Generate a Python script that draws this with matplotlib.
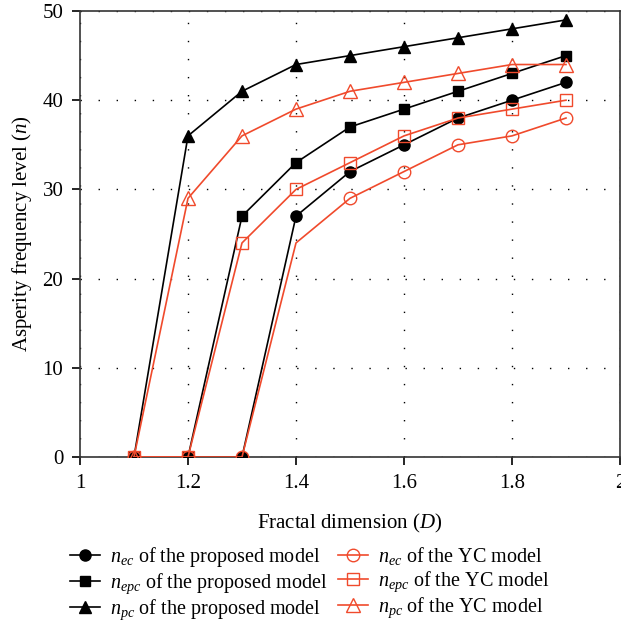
import matplotlib
matplotlib.use("Agg")
from matplotlib import pyplot as plt
from matplotlib.lines import Line2D

plt.rcParams['font.family'] = ['Liberation Serif', 'DejaVu Serif']
plt.rcParams['mathtext.fontset'] = 'custom'
plt.rcParams['mathtext.rm'] = 'Liberation Serif'
plt.rcParams['mathtext.it'] = 'Liberation Serif:italic'

D = [1.1, 1.2, 1.3, 1.4, 1.5, 1.6, 1.7, 1.8, 1.9]

n_ec_prop = [0, 0, 0, 27, 32, 35, 38, 40, 42]
n_epc_prop = [0, 0, 27, 33, 37, 39, 41, 43, 45]
n_pc_prop = [0, 36, 41, 44, 45, 46, 47, 48, 49]

n_ec_yc = [0, 0, 0, 24, 29, 32, 35, 36, 38]
n_epc_yc = [0, 0, 24, 30, 33, 36, 38, 39, 40]
n_pc_yc = [0, 29, 36, 39, 41, 42, 43, 44, 44]

labels = [r'$n_{ec}$ of the proposed model', r'$n_{epc}$ of the proposed model',
          r'$n_{pc}$ of the proposed model', r'$n_{ec}$ of the YC model',
          r'$n_{epc}$ of the YC model', r'$n_{pc}$ of the YC model']

red = '#f04a2c'

fig = plt.figure(figsize=(6.21, 6.35), dpi=100)
ax = fig.add_axes([80/621, 178/635, 540/621, 446/635])

ax.plot(D, n_ec_prop, color='k', marker='o', ms=8, lw=1.2, zorder=3)
ax.plot(D, n_epc_prop, color='k', marker='s', ms=7, lw=1.2, zorder=3)
ax.plot(D, n_pc_prop, color='k', marker='^', ms=9, lw=1.2, zorder=3)
# the YC n_ec curve has no marker drawn at D = 1.4 in the source figure
ax.plot(D, n_ec_yc, color=red, marker='o', ms=9, mfc='none', lw=1.2,
        markevery=[0, 1, 2, 4, 5, 6, 7, 8], zorder=4)
ax.plot(D, n_epc_yc, color=red, marker='s', ms=8, mfc='none', lw=1.2, zorder=4)
ax.plot(D, n_pc_yc, color=red, marker='^', ms=10, mfc='none', lw=1.2, zorder=4)

ax.set_xlim(1, 2)
ax.set_ylim(0, 50)
ax.set_xticks([1, 1.2, 1.4, 1.6, 1.8, 2])
ax.set_xticklabels(['1', '1.2', '1.4', '1.6', '1.8', '2'])
ax.set_yticks([0, 10, 20, 30, 40, 50])
ax.grid(True, color='k', linestyle=(0, (1, 12)), linewidth=1.0)
ax.tick_params(direction='out', length=6, width=1.2, labelsize=15, pad=6)
for s in ax.spines.values():
    s.set_linewidth(1.2)
    s.set_color('#333333')

ax.set_xlabel(r'Fractal dimension ($D$)', fontsize=15, labelpad=14)
ax.set_ylabel(r'Asperity frequency level ($n$)', fontsize=15, labelpad=6)

handles = [
    Line2D([], [], color='k', marker='o', ms=8, lw=1.2),
    Line2D([], [], color='k', marker='s', ms=7, lw=1.2),
    Line2D([], [], color='k', marker='^', ms=9, lw=1.2),
    Line2D([], [], color=red, marker='o', ms=9, mfc='none', lw=1.2),
    Line2D([], [], color=red, marker='s', ms=8, mfc='none', lw=1.2),
    Line2D([], [], color=red, marker='^', ms=10, mfc='none', lw=1.2),
]
fig.legend(handles, labels, ncol=2, loc='upper left', bbox_to_anchor=(0.10, 0.154),
           frameon=False, fontsize=14.5, handlelength=1.5, handletextpad=0.5,
           columnspacing=0.5, labelspacing=0.1, borderaxespad=0)

fig.savefig('out.png', dpi=100)
